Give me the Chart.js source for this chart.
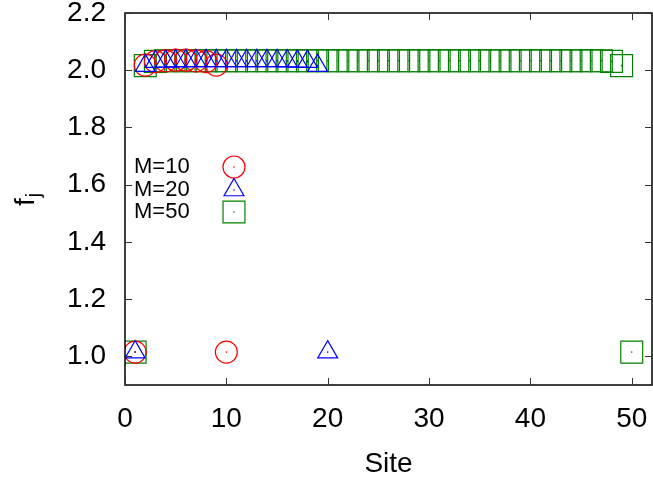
<!DOCTYPE html>
<html>
<head>
<meta charset="utf-8">
<script src="https://cdn.jsdelivr.net/npm/chart.js@4/dist/chart.umd.min.js"></script>
<style>
  html, body { margin: 0; padding: 0; background: #fff; overflow: hidden; }
  canvas { display: block; }
</style>
</head>
<body>
<canvas id="siteChart" width="653" height="483"></canvas>
<script>
// site values for each chain length
const sites10 = [1, 2, 3, 4, 5, 6, 7, 8, 9, 10];
const f10 = [1.015, 2.018, 2.030, 2.033, 2.035, 2.035, 2.033, 2.030, 2.018, 1.015];

const sites20 = [1, 2, 3, 4, 5, 6, 7, 8, 9, 10, 11, 12, 13, 14, 15, 16, 17, 18, 19, 20];
const f20 = [1.015, 2.016, 2.030, 2.031, 2.032, 2.033, 2.033, 2.033, 2.033, 2.033,
             2.033, 2.033, 2.033, 2.033, 2.033, 2.032, 2.031, 2.030, 2.016, 1.015];

const sites50 = [1, 2, 3, 4, 5, 6, 7, 8, 9, 10, 11, 12, 13, 14, 15, 16, 17, 18, 19, 20,
                 21, 22, 23, 24, 25, 26, 27, 28, 29, 30, 31, 32, 33, 34, 35, 36, 37, 38, 39, 40,
                 41, 42, 43, 44, 45, 46, 47, 48, 49, 50];
const f50 = [1.015, 2.016, 2.031, 2.033, 2.033, 2.033, 2.033, 2.033, 2.033, 2.033,
             2.033, 2.033, 2.033, 2.033, 2.033, 2.033, 2.033, 2.033, 2.033, 2.033,
             2.033, 2.033, 2.033, 2.033, 2.033, 2.033, 2.033, 2.033, 2.033, 2.033,
             2.033, 2.033, 2.033, 2.033, 2.033, 2.033, 2.033, 2.033, 2.033, 2.033,
             2.033, 2.033, 2.033, 2.033, 2.033, 2.033, 2.033, 2.031, 2.016, 1.015];

const seriesNames = ['M=10', 'M=20', 'M=50'];
const xTicks = [0, 10, 20, 30, 40, 50];
const yTicks = [1.0, 1.2, 1.4, 1.6, 1.8, 2.0, 2.2];

const RED = 'rgb(255,0,0)';
const BLUE = 'rgb(0,0,255)';
const GREEN = 'rgb(0,128,0)';
const FONT = "'Liberation Sans', Arial, Helvetica, sans-serif";

Chart.defaults.font.family = FONT;
Chart.defaults.color = '#000';

function toPoints(xs, ys) {
    return xs.map((x, i) => ({ x: x, y: ys[i] }));
}

// marker sets: open symbol plus small dot in the middle (gnuplot style)
const styles = [
    { style: 'circle', radius: 11, color: RED },
    { style: 'triangle', radius: 11.5, color: BLUE },
    { style: 'rect', radius: 15.5, color: GREEN }
];
const allData = [toPoints(sites10, f10), toPoints(sites20, f20), toPoints(sites50, f50)];

const datasets = [];
allData.forEach((pts, i) => {
    datasets.push({
        label: seriesNames[i],
        data: pts,
        pointStyle: styles[i].style,
        pointRadius: styles[i].radius,
        pointBorderWidth: 1.2,
        pointBorderColor: styles[i].color,
        pointBackgroundColor: 'rgba(0,0,0,0)',
        order: i === 2 ? 3 : (i === 0 ? 2 : 1)
    });
    datasets.push({
        label: seriesNames[i] + ' dot',
        data: pts,
        pointStyle: 'circle',
        pointRadius: 0.8,
        pointBorderWidth: 0,
        pointBackgroundColor: styles[i].color,
        order: 0
    });
});

// frame, inward ticks, y title and key
const framePlugin = {
    id: 'frame',
    afterDraw(chart) {
        const ctx = chart.ctx;
        const a = chart.chartArea;
        const xs = chart.scales.x, ys = chart.scales.y;
        ctx.save();
        ctx.strokeStyle = '#000';
        ctx.lineWidth = 1.5;
        ctx.strokeRect(a.left, a.top, a.right - a.left, a.bottom - a.top);
        ctx.lineWidth = 1;
        ctx.strokeStyle = '#333';
        const len = 7;
        ctx.beginPath();
        xTicks.forEach(v => {
            const px = Math.round(xs.getPixelForValue(v)) + 0.5;
            ctx.moveTo(px, a.bottom); ctx.lineTo(px, a.bottom - len);
            ctx.moveTo(px, a.top); ctx.lineTo(px, a.top + len);
        });
        yTicks.forEach(v => {
            const py = Math.round(ys.getPixelForValue(v)) + 0.5;
            ctx.moveTo(a.left, py); ctx.lineTo(a.left + len, py);
            ctx.moveTo(a.right, py); ctx.lineTo(a.right - len, py);
        });
        ctx.stroke();

        // y axis title f_j
        ctx.fillStyle = '#000';
        ctx.translate(26, 194);
        ctx.rotate(-Math.PI / 2);
        ctx.textBaseline = 'alphabetic';
        ctx.textAlign = 'left';
        ctx.font = '28px ' + FONT;
        const fw = ctx.measureText('f').width;
        ctx.fillText('f', -12, 8);
        ctx.font = '20px ' + FONT;
        ctx.fillText('j', -12 + fw + 1, 14);
        ctx.restore();

        // key
        ctx.save();
        ctx.font = '22px ' + FONT;
        ctx.fillStyle = '#000';
        ctx.textBaseline = 'middle';
        ctx.textAlign = 'left';
        const keyY = [167, 190, 212];
        seriesNames.forEach((name, i) => {
            ctx.fillText(name, 134, keyY[i]);
            ctx.strokeStyle = styles[i].color;
            ctx.fillStyle = 'rgba(0,0,0,0)';
            ctx.lineWidth = 1.2;
            Chart.helpers.drawPoint(ctx, {
                pointStyle: styles[i].style,
                radius: styles[i].radius,
                rotation: 0,
                borderWidth: 1.2
            }, 234, keyY[i]);
            ctx.fillStyle = styles[i].color;
            ctx.beginPath();
            ctx.arc(234, keyY[i], 0.8, 0, Math.PI * 2);
            ctx.fill();
            ctx.fillStyle = '#000';
        });
        ctx.restore();
    }
};

new Chart(document.getElementById('siteChart'), {
    type: 'scatter',
    data: { datasets: datasets },
    options: {
        responsive: false,
        animation: false,
        devicePixelRatio: 1,
        layout: {
            autoPadding: false,
            padding: { top: 13, right: 1, left: 0, bottom: 0 }
        },
        plugins: {
            legend: { display: false },
            tooltip: { enabled: false }
        },
        scales: {
            x: {
                type: 'linear',
                min: 0,
                max: 52,
                grid: { display: false, drawTicks: false },
                border: { display: false },
                afterBuildTicks(scale) {
                    scale.ticks = xTicks.map(v => ({ value: v }));
                },
                afterFit(scale) {
                    scale.height = 98;
                    scale.paddingLeft = 0;
                    scale.paddingRight = 0;
                },
                ticks: {
                    padding: 17,
                    maxRotation: 0,
                    font: { size: 28 },
                    callback: v => String(v)
                },
                title: {
                    display: true,
                    text: 'Site',
                    font: { size: 28 },
                    padding: { top: 0, bottom: 2 }
                }
            },
            y: {
                type: 'linear',
                min: 0.9,
                max: 2.2,
                grid: { display: false, drawTicks: false },
                border: { display: false },
                afterBuildTicks(scale) {
                    scale.ticks = yTicks.map(v => ({ value: v }));
                },
                afterFit(scale) {
                    scale.width = 125;
                    scale.paddingTop = 0;
                    scale.paddingBottom = 0;
                },
                ticks: {
                    padding: 19,
                    font: { size: 28 },
                    callback: v => v.toFixed(1)
                }
            }
        }
    },
    plugins: [framePlugin]
});
</script>
</body>
</html>
